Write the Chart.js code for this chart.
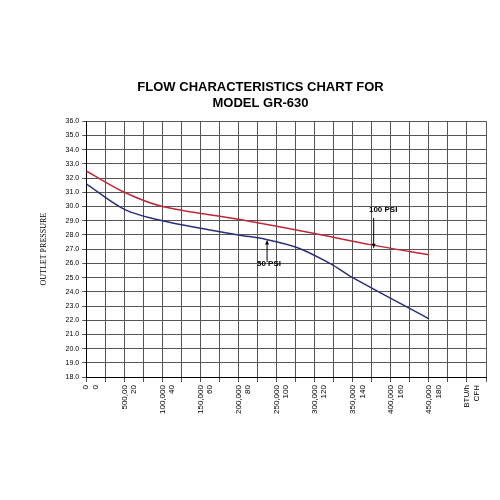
<!DOCTYPE html>
<html><head><script src="https://cdn.jsdelivr.net/npm/chart.js"></script>
<style>body{margin:0;background:#fff}#w{width:500px;height:500px}</style></head>
<body><div id="w"><canvas id="c"></canvas></div>
<script>
const btuLabels=["0","500,00","100,000","150,000","200,000","250,000","300,000","350,000","400,000","450,000","BTU/h"];
const cfhLabels=["0","20","40","60","80","100","120","140","160","180","CFH"];
const psi100X=[0,2,4,8,12,15,18];
const psi100Y=[32.5,31.0,30.0,29.1,28.1,27.3,26.6];
const psi50X=[0,2,4,8,9.4,11.1,12.8,14,18];
const psi50Y=[31.6,29.8,29.0,28.0,27.7,27.1,26.0,25.0,22.1];
const toPts=(xs,ys)=>xs.map((x,i)=>({x,y:ys[i]}));
const notes={
 id:'notes',
 afterDatasetsDraw(ch){
  const {ctx,scales:{x,y}}=ch;
  ctx.save();ctx.fillStyle='#000';ctx.strokeStyle='#000';ctx.lineWidth=1;
  ctx.font='bold 8px "Liberation Sans"';ctx.textAlign='center';
  ctx.fillText('100 PSI',x.getPixelForValue(15.6),y.getPixelForValue(29.6));
  ctx.fillText('50 PSI',x.getPixelForValue(9.6),y.getPixelForValue(25.8));
  const arr=(xv,y1,y2)=>{const px=x.getPixelForValue(xv),a=y.getPixelForValue(y1),b=y.getPixelForValue(y2);
   ctx.beginPath();ctx.moveTo(px,a);ctx.lineTo(px,b);ctx.stroke();
   const d=b>a?-4:4;ctx.beginPath();ctx.moveTo(px-2,b+d);ctx.lineTo(px+2,b+d);ctx.lineTo(px,b);ctx.fill();};
  arr(15.1,29.2,27.1);arr(9.5,26.1,27.6);
  ctx.restore();}
};
new Chart(document.getElementById('c'),{
 type:'line',
 data:{datasets:[
  {data:toPts(psi100X,psi100Y),borderColor:'#c0283a',borderWidth:1.5,pointRadius:0,tension:0.3},
  {data:toPts(psi50X,psi50Y),borderColor:'#2b2f7a',borderWidth:1.5,pointRadius:0,tension:0.3}]},
 options:{responsive:true,maintainAspectRatio:false,animation:false,
  layout:{padding:{top:80,right:14,left:35,bottom:83}},
  plugins:{legend:{display:false},tooltip:{enabled:false},
   title:{display:true,text:['FLOW CHARACTERISTICS CHART FOR','MODEL GR-630'],color:'#000',
    font:{family:'Liberation Sans',size:13,weight:'bold'},padding:{bottom:10}}},
  scales:{
   x:{type:'linear',min:0,max:21,
    ticks:{stepSize:1,autoSkip:false,maxRotation:90,minRotation:90,color:'#000',font:{family:'Liberation Sans',size:8},
     callback:v=>v%2===0&&v<=20?[btuLabels[v/2],cfhLabels[v/2]]:''},
    grid:{color:'#555',lineWidth:1,tickLength:5},border:{color:'#000'}},
   y:{min:18,max:36,
    ticks:{stepSize:1,color:'#000',font:{family:'Liberation Sans',size:7},callback:v=>v.toFixed(1)},
    grid:{color:'#555',lineWidth:1,tickLength:4},border:{color:'#000'},
    title:{display:true,text:'OUTLET PRESSURE',color:'#000',font:{family:'Liberation Serif',size:8},padding:{bottom:14}}}}},
 plugins:[notes]
});
</script></body></html>
